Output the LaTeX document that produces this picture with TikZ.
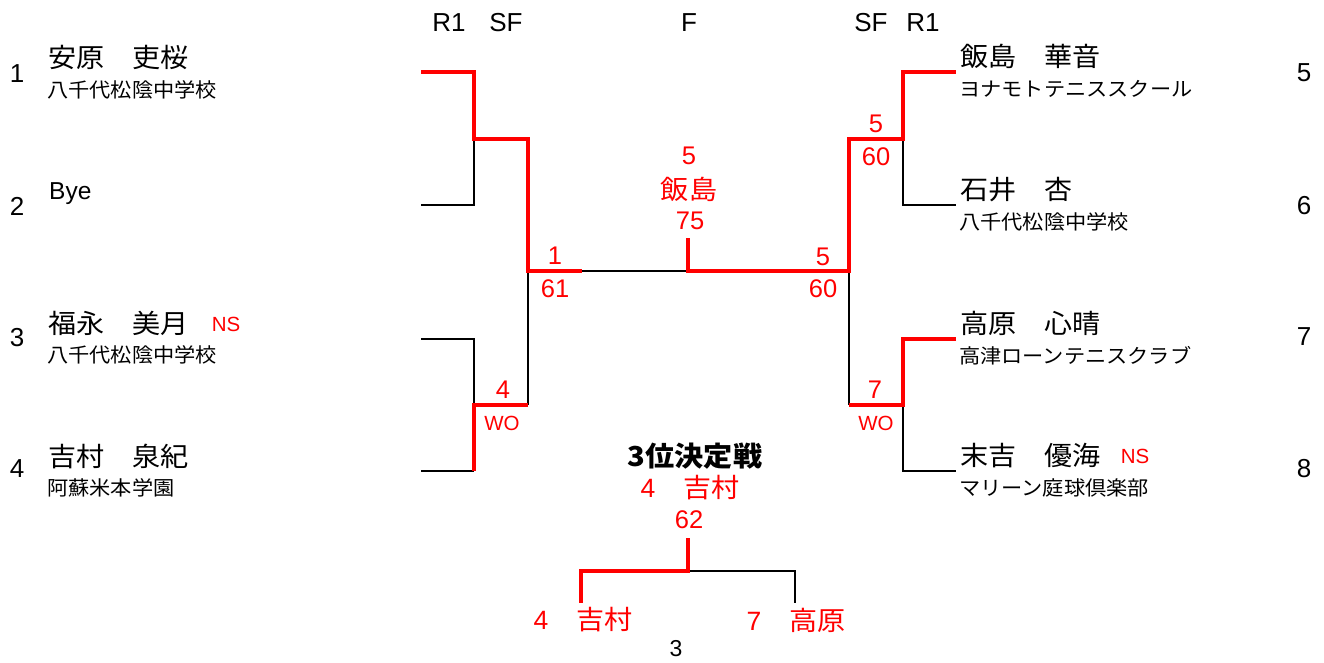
\documentclass[tikz,border=0pt]{standalone}
\usepackage{fontspec}
\setmainfont{Liberation Sans}
\newfontfamily\jp[FakeStretch=1.06]{Noto Sans CJK JP}
\tikzset{
  win/.style={draw=red, line width=4.6pt, line join=miter},
  lose/.style={draw=black, line width=2.2pt},
  pname/.style={anchor=west, inner sep=0pt, font=\jp\fontsize{26.5}{30}\selectfont},
  pschool/.style={anchor=west, inner sep=0pt, font=\jp\fontsize{20}{22}\selectfont},
  lbl/.style={inner sep=0pt, font=\fontsize{26}{28}\selectfont},
  score/.style={inner sep=0pt, text=red, font=\fontsize{25.5}{28}\selectfont},
  small/.style={inner sep=0pt, text=red, font=\fontsize{20.5}{22}\selectfont},
  rname/.style={inner sep=0pt, text=red, font=\fontsize{26.5}{30}\selectfont},
}
\begin{document}
\begin{tikzpicture}[x=1pt,y=-1pt]
\useasboundingbox (0,0) rectangle (1324,662);
% coordinates
\coordinate (L1) at (421,72);   \coordinate (L1j) at (474,72);
\coordinate (L2) at (421,205);  \coordinate (L2j) at (474,205);
\coordinate (Ls1) at (474,139); \coordinate (Ls1e) at (528,139);
\coordinate (L3) at (421,339);  \coordinate (L3j) at (474,339);
\coordinate (L4) at (421,471);  \coordinate (L4j) at (474,471);
\coordinate (Ls2) at (474,405); \coordinate (Ls2e) at (528,405);
\coordinate (Lf) at (528,271);  \coordinate (Lfm) at (582,271);
\coordinate (Fc) at (688,271);  \coordinate (Ft) at (688,238);
\coordinate (Rf) at (849,271);
\coordinate (Rs1e) at (849,139); \coordinate (Rs1) at (903,139);
\coordinate (R1j) at (903,72);   \coordinate (R1) at (956,72);
\coordinate (R2j) at (903,205);  \coordinate (R2) at (956,205);
\coordinate (R3j) at (903,339);  \coordinate (R3) at (956,339);
\coordinate (Rs2) at (903,405);  \coordinate (Rs2e) at (849,405);
\coordinate (R4j) at (903,471);  \coordinate (R4) at (956,471);
\coordinate (Tt) at (688,538);  \coordinate (Tc) at (688,571);
\coordinate (Tl) at (581,571);  \coordinate (Tlb) at (581,603);
\coordinate (Tr) at (795,571);  \coordinate (Trb) at (795,603);
% black lines
\draw[lose] (L2) -- (L2j) -- (Ls1);
\draw[lose] (L3) -- (L3j) -- (Ls2);
\draw[lose] (L4) -- (L4j);
\draw[lose] (Ls2e) -- (Lf);
\draw[lose] (Lfm) -- (Fc);
\draw[lose] (Rs1) -- (R2j) -- (R2);
\draw[lose] (Rs2e) -- (Rf);
\draw[lose] (Rs2) -- (R4j) -- (R4);
\draw[lose] (Tc) -- (Tr) -- (Trb);
% red lines
\draw[win] (L1) -- (L1j) -- (Ls1) -- (Ls1e) -- (Lf) -- (Lfm);
\draw[win] (L4j) -- (Ls2) -- (Ls2e);
\draw[win] (Ft) -- (Fc) -- (Rf) -- (Rs1e) -- (Rs1) -- (R1j) -- (R1);
\draw[win] (R3) -- (R3j) -- (Rs2) -- (Rs2e);
\draw[win] (Tt) -- (Tc) -- (Tl) -- (Tlb);
% headers
\node[lbl] (hR1l) at (449,23) {R1};
\node[lbl] (hSFl) at (506,23) {SF};
\node[lbl] (hF) at (689,23) {F};
\node[lbl] (hSFr) at (871,23) {SF};
\node[lbl] (hR1r) at (923,23) {R1};
% seed numbers
\node[lbl] (n1) at (17,74) {1};
\node[lbl] (n2) at (17,206) {2};
\node[lbl] (n3) at (17,338) {3};
\node[lbl] (n4) at (17,469) {4};
\node[lbl] (n5) at (1304,73) {5};
\node[lbl] (n6) at (1304,206) {6};
\node[lbl] (n7) at (1304,337) {7};
\node[lbl] (n8) at (1304,469) {8};
% left players
\node[pname] (p1) at (48,57) {安原　吏桜};
\node[pschool] (s1) at (47,90) {八千代松陰中学校};
\node[lbl, anchor=base west, font=\fontsize{24.5}{28}\selectfont] (p2) at (49,199) {Bye};
\node[pname] (p3) at (48,323) {福永　美月};
\node[small] (ns3) at (226,324) {NS};
\node[pschool] (s3) at (47,355) {八千代松陰中学校};
\node[pname] (p4) at (48,456) {吉村　泉紀};
\node[pschool] (s4) at (47,488) {阿蘇米本学園};
% right players
\node[pname] (p5) at (960,56) {飯島　華音};
\node[pschool] (s5) at (959,89) {ヨナモトテニススクール};
\node[pname] (p6) at (960,190) {石井　杏};
\node[pschool] (s6) at (959,222) {八千代松陰中学校};
\node[pname] (p7) at (960,323) {高原　心晴};
\node[pschool] (s7) at (959,356) {高津ローンテニスクラブ};
\node[pname] (p8) at (960,456) {末吉　優海};
\node[small] (ns8) at (1135,456) {NS};
\node[pschool] (s8) at (959,488) {マリーン庭球倶楽部};
% scores
\node[score] (a1) at (555,256) {1};
\node[score] (a61) at (555,289) {61};
\node[score] (a4) at (503,390) {4};
\node[small] (awo1) at (502,423) {WO};
\node[score] (b5) at (876,124) {5};
\node[score] (b60) at (876,157) {60};
\node[score] (b7) at (875,390) {7};
\node[small] (bwo) at (876,423) {WO};
\node[score] (c5) at (823,257) {5};
\node[score] (c60) at (823,289) {60};
\node[score] (f5) at (689,156) {5};
\node[rname] (fw) at (689,189) {\jp 飯島};
\node[score] (f75) at (690,221) {75};
% third place
\node[inner sep=0pt, font=\jp\bfseries\fontsize{27.5}{30}\selectfont] (t3) at (695,456) {3位決定戦};
\node[rname] (tw) at (690,488) {4\jp　吉村};
\node[score] (t62) at (689,520) {62};
\node[rname] (tp1) at (583,620) {4\jp　吉村};
\node[rname] (tp2) at (796,620) {7\jp　高原};
\node[lbl, font=\fontsize{23}{26}\selectfont] (pg) at (676,649) {3};
\end{tikzpicture}
\end{document}
